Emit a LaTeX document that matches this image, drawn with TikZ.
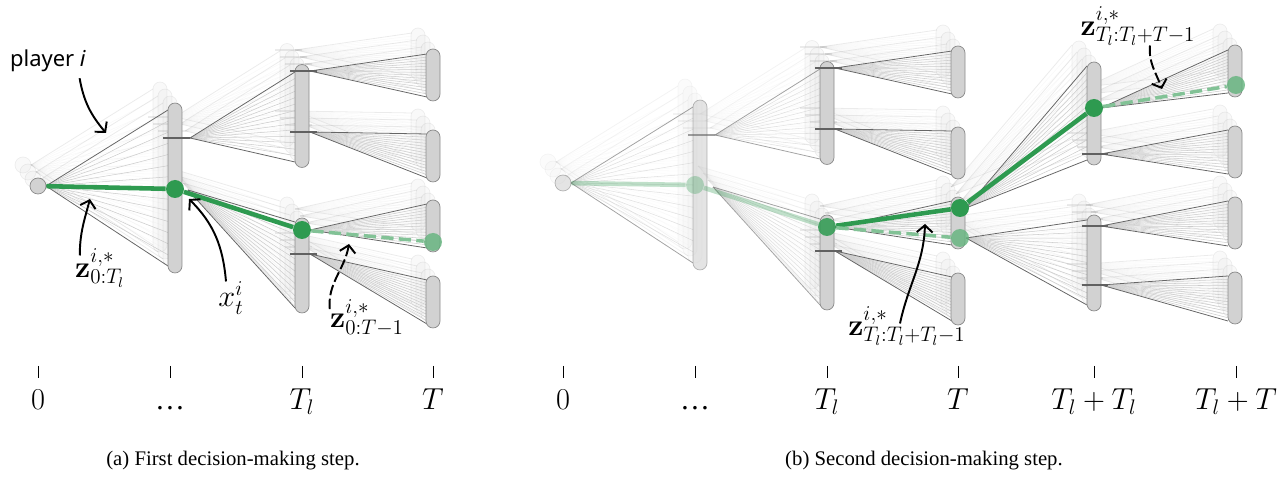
\documentclass[tikz,border=0pt]{standalone}
\usepackage[no-math]{fontspec}
\setmainfont{Liberation Serif}
\newfontfamily\plfont{Noto Sans}
\usetikzlibrary{arrows.meta}
\definecolor{barfill}{HTML}{D2D2D2}
\definecolor{barline}{HTML}{8A8A8A}
\definecolor{hlgreen}{HTML}{2E9A50}

% one fan of lines from a source point to the left edge of a bar
\newcommand\fan[4]{%
  \foreach \k in {1,...,13}{\draw[fanline] (#1) -- (#2,{#3+(#4-#3)*\k/14});}%
  \draw[fanedge] (#1) -- (#2,#3) (#1) -- (#2,#4);}

% root and first bar
\newcommand\firststage[2]{%
  \begin{scope}[opacity=#2]
    \fan{46,186}{168}{110}{266}
    \fan{190,138}{295}{72}{162}
    \fan{188,190}{295}{222}{308}
    \node[root] (#1r) at (38,186) {};
    \node[bar,minimum height=3.4cm] (#1b1) at (175,188) {};
    \draw[tickmark] (163,138) -- (190,138);
  \end{scope}}

% second and third columns
\newcommand\laterstages[2]{%
  \begin{scope}[opacity=#2]
    \fan{310,71}{427}{54}{97}
    \fan{310,132}{427}{134}{178}
    \fan{310,230}{427}{204}{248}
    \fan{310,254}{427}{280}{324}
    \node[bar,minimum height=2.06cm] (#1b2a) at (302,116) {};
    \node[bar,minimum height=1.9cm] (#1b2b) at (302,265.5) {};
    \draw[tickmark] (290,71) -- (317,71) (290,132) -- (317,132) (290,254) -- (317,254);
    \foreach \y [count=\j] in {75,156,226,302}
      \node[bar,minimum height=1.04cm] (#1b3\j) at (433,\y) {};
  \end{scope}}

% fourth and fifth columns, panel (b) only
\newcommand\extrastages[2]{%
  \begin{scope}[opacity=#2]
    \fan{966,208}{1087}{66}{160}
    \fan{966,238}{1087}{220}{305}
    \fan{1101,108}{1228}{50}{93}
    \fan{1101,154}{1228}{130}{174}
    \fan{1101,226}{1228}{201}{246}
    \fan{1101,285}{1228}{276}{321}
    \node[bar,minimum height=2.06cm] (#1b4a) at (1094,113.5) {};
    \node[bar,minimum height=1.92cm] (#1b4b) at (1094,263) {};
    \draw[tickmark] (1082,154) -- (1108,154) (1082,226) -- (1108,226) (1082,285) -- (1108,285);
    \foreach \y [count=\j] in {71,152,223,298}
      \node[bar,minimum height=1.04cm] (#1b5\j) at (1235,\y) {};
  \end{scope}}

\begin{document}
\begin{tikzpicture}[x=0.02cm,y=-0.02cm,
    bar/.style={draw=barline,fill=barfill,rounded corners=0.14cm,minimum width=0.28cm,inner sep=0pt},
    root/.style={circle,draw=barline,fill=barfill,minimum size=0.32cm,inner sep=0pt},
    dot/.style={circle,fill=hlgreen,minimum size=0.36cm,inner sep=0pt},
    softdot/.style={dot,fill=hlgreen!75!white,opacity=0.8},
    tickmark/.style={draw=barline!70!black,line width=0.8pt},
    fanline/.style={draw=gray!40,line width=0.3pt},
    fanedge/.style={draw=gray!80!black,line width=0.45pt},
    hl/.style={draw=hlgreen,line width=2.6pt},
    hldash/.style={draw=hlgreen!60,line width=2pt,dash pattern=on 7pt off 3pt},
    notearrow/.style={-{Straight Barb[length=4pt,width=9pt]},line width=1.1pt},
    axtick/.style={draw=black,line width=0.5pt},
    plab/.style={font=\plfont\fontsize{12.5}{15}\selectfont},
    mlab/.style={inner sep=0pt,font=\fontsize{17}{20}\selectfont},
    axlab/.style={font=\fontsize{17}{20}\selectfont},
    captext/.style={font=\fontsize{11.8}{14}\selectfont}]
  \useasboundingbox (0,0) rectangle (1286,479);

  % blurred copies behind
  \foreach \g in {3,2,1}{
    \begin{scope}[shift={(-5*\g,-7*\g)}]
      \firststage{ga}{0.13} \laterstages{ga}{0.13}
      \begin{scope}[shift={(525,-3)}]
        \firststage{gb}{0.08} \laterstages{gb}{0.13}
      \end{scope}
      \extrastages{gb}{0.13}
    \end{scope}}

  % panel (a)
  \firststage{a}{1} \laterstages{a}{1}
  % panel (b)
  \begin{scope}[shift={(525,-3)}]
    \firststage{b}{0.6} \laterstages{b}{1}
  \end{scope}
  \extrastages{b}{1}

  % chosen paths (a)
  \node[dot] (ag1) at (175,189) {};
  \node[dot] (ag2) at (302,230) {};
  \node[softdot] (ag3) at (433,242) {};
  \draw[hl] (ar) -- (ag1); \draw[hl] (ag1) -- (ag2); \draw[hldash] (ag2) -- (ag3);

  % chosen paths (b)
  \node[dot,opacity=0.3] (bg1) at (695,185) {};
  \node[dot,opacity=0.85] (bg2) at (827,227) {};
  \node[dot] (bg3) at (960,208) {};
  \node[softdot] (bg4) at (960,238) {};
  \node[dot] (bg5) at (1094,108) {};
  \node[softdot] (bg6) at (1236,85) {};
  \draw[hl,opacity=0.3] (br) -- (bg1); \draw[hl,opacity=0.3] (bg1) -- (bg2);
  \draw[hl] (bg2) -- (bg3); \draw[hldash] (bg2) -- (bg4);
  \draw[hl] (bg3) -- (bg5); \draw[hldash] (bg5) -- (bg6);

  % labels (a)
  \node[plab] (player) at (48,61) {player \textit{i}};
  \coordinate (playertip) at (106,133);
  \draw[notearrow] ([xshift=-0.25cm]player.south east) to[out=-80,in=130] (playertip);
  \node[mlab] (zfirst) at (100,268) {$\mathbf{z}^{i,*}_{0:T_l}$};
  \coordinate (zfirsttip) at (90,199);
  \draw[notearrow] ([shift={(0.1cm,-0.14cm)}]zfirst.north west) to[out=90,in=-105] (zfirsttip);
  \node[mlab] (xt) at (231,298) {$x^i_t$};
  \coordinate (xttip) at (189,199);
  \draw[notearrow] ([xshift=-0.1cm]xt.north) to[out=95,in=-45] (xttip);
  \node[mlab] (zsecond) at (367,318) {$\mathbf{z}^{i,*}_{0:T-1}$};
  \coordinate (zsecondtip) at (349,244);
  \draw[notearrow,dash pattern=on 6pt off 2pt] ([yshift=-0.2cm]zsecond.north west) to[out=95,in=-100] (zsecondtip);

  % labels (b)
  \node[mlab] (zthird) at (907,326) {$\mathbf{z}^{i,*}_{T_l:T_l+T_l-1}$};
  \coordinate (zthirdtip) at (925,224);
  \draw[notearrow] ([shift={(-0.14cm,-0.34cm)}]zthird.north) to[out=78,in=-92] (zthirdtip);
  \node[mlab] (zfourth) at (1138,26) {$\mathbf{z}^{i,*}_{T_l:T_l+T-1}$};
  \coordinate (zfourthtip) at (1162,89);
  \draw[notearrow,dash pattern=on 6pt off 2pt] ([xshift=0.24cm]zfourth.south) to[out=-95,in=110] (zfourthtip);

  % time axis
  \foreach \x/\t [count=\j] in {38/0,170/{\mbox{\textellipsis}},302/T_l,433/T,563/0,695/{\mbox{\textellipsis}},827/T_l,958/T,1094/{T_l+T_l},1236/{T_l+T}}{
    \draw[axtick] (\x,366) -- (\x,378);
    \node[axlab,anchor=base] (ax\j) at (\x,410) {$\t$};}

  \node[captext] (capa) at (233,461) {(a) First decision-making step.};
  \node[captext] (capb) at (924,461) {(b) Second decision-making step.};
\end{tikzpicture}
\end{document}
